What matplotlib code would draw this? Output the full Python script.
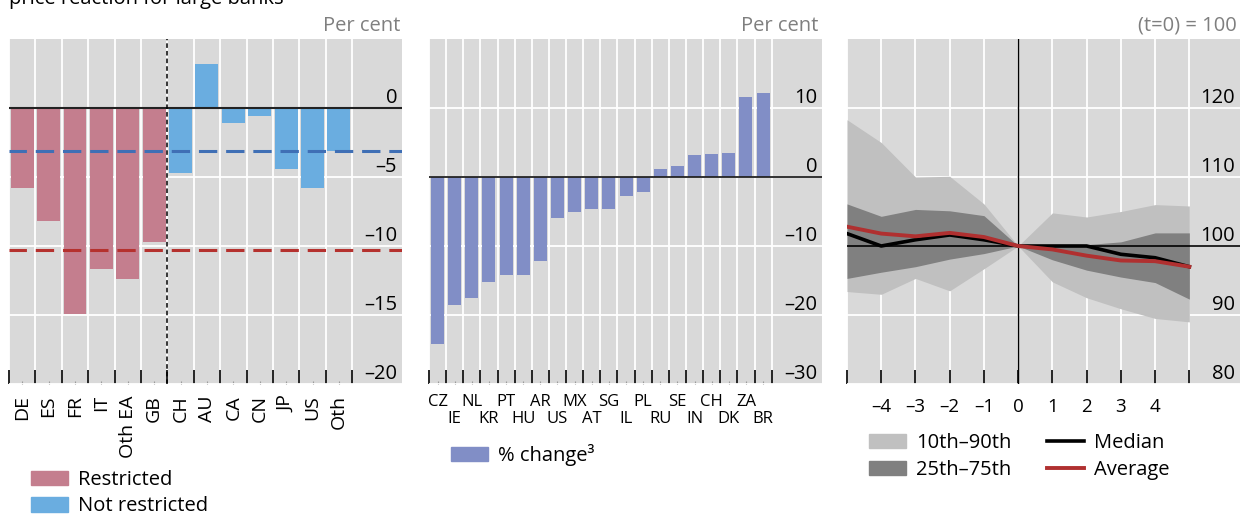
import numpy as np
import matplotlib
matplotlib.use('Agg')
import matplotlib.pyplot as plt
from matplotlib.patches import Patch
from matplotlib.lines import Line2D
from matplotlib.transforms import ScaledTranslation

plt.rcParams['font.family'] = ['Open Sans', 'DejaVu Sans']
plt.rcParams['font.size'] = 14

BG = '#d9d9d9'
GREY_TXT = '#7f7f7f'

# left panel: banking markets, short-selling restricted or not
markets = ['DE', 'ES', 'FR', 'IT', 'Oth EA', 'GB', 'CH', 'AU', 'CA', 'CN', 'JP', 'US', 'Oth']
market_change = [-5.8, -8.2, -14.9, -11.7, -12.4, -9.7, -4.7, 3.2, -1.1, -0.6, -4.4, -5.8, -3.1]
restricted = [True, True, True, True, True, True, False, False, False, False, False, False, False]
avg_restricted = -10.3
avg_not_restricted = -3.1

# centre panel: % change by country
countries = ['CZ', 'IE', 'NL', 'KR', 'PT', 'HU', 'AR', 'US', 'MX', 'AT',
             'SG', 'IL', 'PL', 'RU', 'SE', 'IN', 'CH', 'DK', 'ZA', 'BR']
country_change = [-24.2, -18.5, -17.5, -15.2, -14.2, -14.2, -12.2, -6.0, -5.0, -4.6,
                  -4.6, -2.7, -2.15, 1.15, 1.6, 3.2, 3.35, 3.5, 11.6, 12.2]

# right panel: event window, index (t=0) = 100
horizon = [-5, -4, -3, -2, -1, 0, 1, 2, 3, 4, 5]
p10 = [93.4, 93.0, 95.3, 93.5, 96.7, 100, 94.8, 92.5, 90.9, 89.5, 89.0]
p25 = [95.3, 96.2, 97.0, 98.1, 98.9, 100, 98.0, 96.5, 95.5, 94.7, 92.3]
p75 = [106.1, 104.3, 105.3, 105.1, 104.4, 100, 100.2, 100.2, 100.6, 101.9, 101.9]
p90 = [118.3, 115.0, 110.0, 110.1, 106.1, 100, 104.8, 104.2, 105.0, 106.0, 105.8]
median = [101.8, 100.0, 100.9, 101.6, 100.9, 100, 100.0, 100.0, 98.8, 98.3, 97.0]
average = [102.8, 101.8, 101.4, 101.9, 101.3, 100, 99.5, 98.6, 97.9, 97.8, 97.0]


def dash(v):
    return str(v).replace('-', '\u2013')


def base_style(ax, ylim, yticks):
    ax.set_facecolor(BG)
    for s in ax.spines.values():
        s.set_visible(False)
    ax.set_ylim(*ylim)
    ax.yaxis.tick_right()
    ax.set_yticks(yticks)
    ax.tick_params(axis='y', length=0, pad=-3.5, labelsize=14.5)
    ax.set_yticklabels([dash(v) for v in yticks], ha='right', va='bottom')
    ax.grid(axis='y', color='white', lw=1.3)
    ax.set_axisbelow(True)


def category_axis(ax, labels, right, labelsize, rotation=0, pad=9):
    n = len(labels)
    edges = np.arange(n + 1) - 0.5
    ax.set_xlim(-0.5, right)
    ax.set_xticks(edges)
    ax.set_xticklabels([])
    ax.set_xticks(np.arange(n), minor=True)
    ax.set_xticklabels(labels, minor=True, rotation=rotation, fontsize=labelsize, va='top')
    ax.tick_params(axis='x', which='major', direction='in', length=10, width=1.2, color='black')
    ax.tick_params(axis='x', which='minor', direction='in', length=2, width=0.8, color='#9a9a9a', pad=pad)
    ax.grid(axis='x', which='major', color='white', lw=1.3)


fig = plt.figure(figsize=(12.4, 5.14), dpi=100)
H = 514.0
W = 1240.0
bottom = (H - 384) / H
height = (384 - 39) / H
leg_kw = dict(frameon=False, fontsize=14.5, handlelength=1.85, handleheight=0.75,
              handletextpad=0.5, borderpad=0, borderaxespad=0, loc='upper left')

fig.text(9 / W, 1 - 4 / H, 'price reaction for large banks', va='baseline', fontsize=14.5)

# ---- left panel
ax1 = fig.add_axes([9 / W, bottom, (402 - 9) / W, height])
base_style(ax1, (-20, 5), [0, -5, -10, -15, -20])
category_axis(ax1, markets, 14.39, 14, rotation=90, pad=8)
x1 = np.arange(len(markets))
cols = ['#c47e8e' if r else '#6aade0' for r in restricted]
ax1.bar(x1, market_change, width=0.87, color=cols, zorder=2)
ax1.axhline(0, color='#222222', lw=1.5, zorder=3)
ax1.axhline(avg_not_restricted, color='#3f6fb5', lw=2.2, ls=(0.3, (6.0, 2.9)), zorder=4)
ax1.axhline(avg_restricted, color='#b5312e', lw=2.2, ls=(0.3, (6.0, 2.9)), zorder=4)
ax1.axvline(restricted.count(True) - 0.5, color='black', lw=1.1, ls=(0, (3, 2)), zorder=4)
fig.text(400 / W, 1 - 26 / H, 'Per cent', ha='right', va='center', color=GREY_TXT, fontsize=14.5)
fig.legend(handles=[Patch(color='#c47e8e', label='Restricted'),
                    Patch(color='#6aade0', label='Not restricted')],
           bbox_to_anchor=(31 / W, 1 - 470 / H), labelspacing=0.32, **leg_kw)

# ---- centre panel
ax2 = fig.add_axes([429 / W, bottom, (822 - 429) / W, height])
base_style(ax2, (-30, 20), [10, 0, -10, -20, -30])
category_axis(ax2, countries, 22.44, 12, pad=7)
# every second country label goes on a lower row
row_shift = ScaledTranslation(0, -17.5 / 100, fig.dpi_scale_trans)
for i, t in enumerate(ax2.get_xticklabels(minor=True)):
    if i % 2:
        t.set_transform(t.get_transform() + row_shift)
x2 = np.arange(len(countries))
ax2.bar(x2, country_change, width=0.76, color='#818ec6', zorder=2)
ax2.axhline(0, color='#222222', lw=1.3, zorder=3)
fig.text(818 / W, 1 - 26 / H, 'Per cent', ha='right', va='center', color=GREY_TXT, fontsize=14.5)
fig.legend(handles=[Patch(color='#818ec6', label='% change\u00b3')],
           bbox_to_anchor=(451 / W, 1 - 444 / H), **leg_kw)

# ---- right panel
ax3 = fig.add_axes([847 / W, bottom, (W - 847) / W, height])
base_style(ax3, (80, 130), [120, 110, 100, 90, 80])
ax3.set_xlim(-5, 6.48)
ax3.set_xticks(horizon)
ax3.set_xticklabels(['' if h in (-5, 5) else dash(h) for h in horizon], fontsize=13.5)
ax3.tick_params(axis='x', direction='in', length=10, width=1.2, color='black', pad=10)
ax3.grid(axis='x', color='white', lw=1.3)
ax3.fill_between(horizon, p10, p90, color='#c0c0c0', lw=0, zorder=2)
ax3.fill_between(horizon, p25, p75, color='#808080', lw=0, zorder=2)
ax3.axhline(100, color='black', lw=1.2, zorder=3)
ax3.axvline(0, color='black', lw=1.0, zorder=3)
ax3.plot(horizon, median, color='black', lw=2.6, zorder=4)
ax3.plot(horizon, average, color='#b03030', lw=2.8, zorder=5)
fig.text(1237 / W, 1 - 26 / H, '(t=0) = 100', ha='right', va='center', color=GREY_TXT, fontsize=14.5)
fig.legend(handles=[Patch(color='#c0c0c0', label='10th\u201390th'),
                    Patch(color='#808080', label='25th\u201375th'),
                    Line2D([], [], color='black', lw=2.6, label='Median'),
                    Line2D([], [], color='#b03030', lw=2.8, label='Average')],
           ncol=2, bbox_to_anchor=(869 / W, 1 - 433 / H), labelspacing=0.35,
           columnspacing=1.75, **leg_kw)

fig.savefig('out.png', dpi=100)
